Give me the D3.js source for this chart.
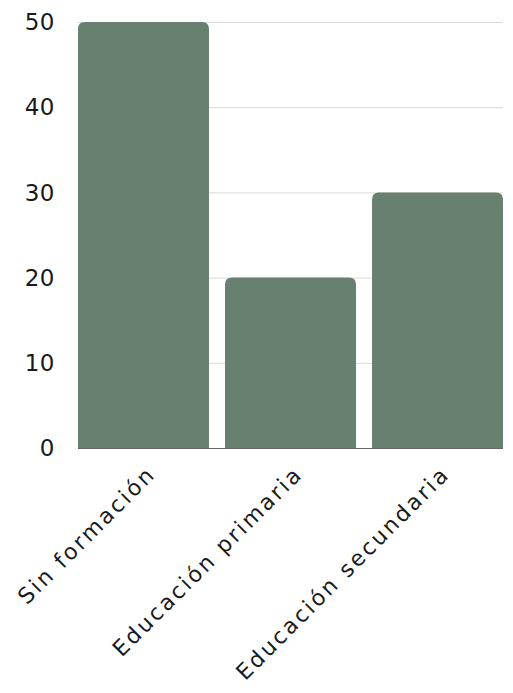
<!DOCTYPE html>
<html>
<head>
<meta charset="utf-8">
<script src="https://cdn.jsdelivr.net/npm/d3@7"></script>
<style>
  body { margin: 0; background: #fff; }
  svg text { font-family: "DejaVu Sans", sans-serif; fill: #1a1a1a; }
</style>
</head>
<body>
<svg></svg>
<script>
const categories = ['Sin formación', 'Educación primaria', 'Educación secundaria'];
const values = [50, 20, 30];
const yTicks = [0, 10, 20, 30, 40, 50];

const width = 513;
const height = 693;
const margin = { top: 22, right: 10, bottom: 245, left: 78 };

const svg = d3.select('svg')
  .attr('width', width)
  .attr('height', height);

const x = d3.scaleBand()
  .domain(categories)
  .range([margin.left, 503])
  .paddingInner(0.109)
  .paddingOuter(0);

const y = d3.scaleLinear()
  .domain([0, 50])
  .range([height - margin.bottom, margin.top]);

// gridlines
svg.append('g')
  .selectAll('line')
  .data(yTicks)
  .enter().append('line')
  .attr('x1', margin.left)
  .attr('x2', 503)
  .attr('y1', d => y(d) + 0.5)
  .attr('y2', d => y(d) + 0.5)
  .attr('stroke', '#d9d9d9')
  .attr('stroke-width', 1);

// y tick labels
svg.append('g')
  .selectAll('text')
  .data(yTicks)
  .enter().append('text')
  .attr('x', 55)
  .attr('y', d => y(d))
  .attr('dy', '0.36em')
  .attr('text-anchor', 'end')
  .style('font-size', '23px')
  .style('letter-spacing', '0.5px')
  .text(d => d);

// bars with rounded tops
const r = 7;
svg.append('g')
  .selectAll('path')
  .data(values)
  .enter().append('path')
  .attr('fill', '#68806f')
  .attr('d', (d, i) => {
    const x0 = x(categories[i]), x1 = x0 + x.bandwidth();
    const yt = y(d), yb = y(0);
    return `M${x0},${yb}V${yt + r}Q${x0},${yt} ${x0 + r},${yt}H${x1 - r}Q${x1},${yt} ${x1},${yt + r}V${yb}Z`;
  });

// baseline
svg.append('line')
  .attr('x1', margin.left)
  .attr('x2', 503)
  .attr('y1', y(0) + 0.5)
  .attr('y2', y(0) + 0.5)
  .attr('stroke', '#666');

// x labels
svg.append('g')
  .selectAll('text')
  .data(categories)
  .enter().append('text')
  .attr('transform', d => `translate(${x(d) + x.bandwidth() / 2 + 8},${y(0) + 22}) rotate(-45)`)
  .attr('text-anchor', 'end')
  .attr('dy', '0.35em')
  .style('font-size', '22px')
  .style('letter-spacing', '2.5px')
  .text(d => d);
</script>
</body>
</html>
